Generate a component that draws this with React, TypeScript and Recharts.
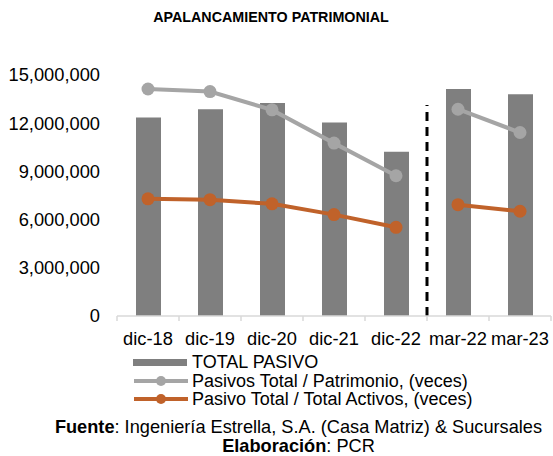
import React from "react";
import { ComposedChart, Bar, Line, XAxis, YAxis, ReferenceLine } from "recharts";

const categories = ["dic-18", "dic-19", "dic-20", "dic-21", "dic-22", "mar-22", "mar-23"];
const totalPasivo = [12350000, 12870000, 13250000, 12040000, 10220000, 14130000, 13800000];
// ratios drawn on a hidden secondary axis (0–15)
const pasivoPatrimonio = [14.13, 13.97, 12.83, 10.76, 8.73, 12.87, 11.42];
const pasivoActivos = [7.29, 7.24, 6.98, 6.31, 5.52, 6.93, 6.52];
const yTicks = [0, 3000000, 6000000, 9000000, 12000000, 15000000];
const annualCount = 5;

const data = categories.map((c, i) => ({
  cat: c,
  pasivo: totalPasivo[i],
  patA: i < annualCount ? pasivoPatrimonio[i] : null,
  patQ: i >= annualCount ? pasivoPatrimonio[i] : null,
  actA: i < annualCount ? pasivoActivos[i] : null,
  actQ: i >= annualCount ? pasivoActivos[i] : null,
}));

const FONT = "'Liberation Sans', Arial, sans-serif";
const BAR = "#7f7f7f";
const GRAY = "#a5a5a5";
const ORANGE = "#c0622a";

const lineDot = (color: string) => ({ r: 6.5, fill: color, stroke: color, strokeWidth: 0 });

// category label plus tick marks on the band edges (excel style)
function CatTick(props: any) {
  const { x, y, payload, index } = props;
  const half = payload?.offset ?? 31;
  const axisY = 316;
  const last = index === categories.length - 1;
  return (
    <g>
      <line x1={x - half} x2={x - half} y1={axisY} y2={axisY + 5} stroke="#d9d9d9" strokeWidth={1.5} />
      {last && <line x1={x + half} x2={x + half} y1={axisY} y2={axisY + 5} stroke="#d9d9d9" strokeWidth={1.5} />}
      <text x={x} y={y} dy="0.71em" textAnchor="middle" fill="#000" fontSize={18.3} fontFamily={FONT}>
        {payload.value}
      </text>
    </g>
  );
}

function LegendLine({ color }: { color: string }) {
  return (
    <svg width={56} height={12} style={{ marginRight: 3 }}>
      <line x1={1} y1={6} x2={55} y2={6} stroke={color} strokeWidth={4} />
      <circle cx={28} cy={6} r={5} fill={color} />
    </svg>
  );
}

export default function App() {
  return (
    <div style={{ position: "relative", width: 553, height: 456, fontFamily: FONT, color: "#000" }}>
      <style>{`body{margin:0}`}</style>
      <div style={{ position: "absolute", left: 0, top: 9, width: 542, textAlign: "center", fontWeight: "bold", fontSize: 14.3 }}>
        APALANCAMIENTO PATRIMONIAL
      </div>
      <div style={{ position: "absolute", left: 0, top: 0 }}>
        <ComposedChart width={553} height={350} data={data} margin={{ top: 75, right: 2, left: 0, bottom: 0 }}>
          <XAxis
            xAxisId="x"
            dataKey="cat"
            height={34}
            tickLine={false}
            axisLine={{ stroke: "#d9d9d9", strokeWidth: 1.5 }}
            tick={<CatTick />}
            tickMargin={10}
            interval={0}
          />
          <YAxis
            yAxisId="l"
            width={117}
            domain={[0, 15000000]}
            ticks={yTicks}
            tickFormatter={(v: number) => v.toLocaleString("en-US")}
            axisLine={false}
            tickLine={false}
            tickMargin={11}
            tick={{ fill: "#000", fontSize: 18.3, fontFamily: FONT }}
          />
          <YAxis yAxisId="r" orientation="right" hide domain={[0, 15]} />
          <Bar xAxisId="x" yAxisId="l" dataKey="pasivo" fill={BAR} barSize={25} isAnimationActive={false} />
          <ReferenceLine
            xAxisId="x"
            yAxisId="l"
            segment={[{ x: "dic-22", y: 0 }, { x: "dic-22", y: 13140000 }]}
            position="end"
            stroke="#000"
            strokeWidth={3}
            strokeDasharray="9 6"
          />
          <Line xAxisId="x" yAxisId="r" dataKey="patA" stroke={GRAY} strokeWidth={4} dot={lineDot(GRAY)} activeDot={false} connectNulls={false} isAnimationActive={false} />
          <Line xAxisId="x" yAxisId="r" dataKey="patQ" stroke={GRAY} strokeWidth={4} dot={lineDot(GRAY)} activeDot={false} connectNulls={false} isAnimationActive={false} />
          <Line xAxisId="x" yAxisId="r" dataKey="actA" stroke={ORANGE} strokeWidth={4} dot={lineDot(ORANGE)} activeDot={false} connectNulls={false} isAnimationActive={false} />
          <Line xAxisId="x" yAxisId="r" dataKey="actQ" stroke={ORANGE} strokeWidth={4} dot={lineDot(ORANGE)} activeDot={false} connectNulls={false} isAnimationActive={false} />
        </ComposedChart>
      </div>
      <div style={{ position: "absolute", left: 133, top: 353, fontSize: 18, lineHeight: "18.6px" }}>
        <div style={{ display: "flex", alignItems: "center", height: 18.6 }}>
          <div style={{ width: 54, height: 7, background: BAR, marginRight: 5 }} />
          <span>TOTAL PASIVO</span>
        </div>
        <div style={{ display: "flex", alignItems: "center", height: 18.6 }}>
          <LegendLine color={GRAY} />
          <span>Pasivos Total / Patrimonio, (veces)</span>
        </div>
        <div style={{ display: "flex", alignItems: "center", height: 18.6 }}>
          <LegendLine color={ORANGE} />
          <span>Pasivo Total / Total Activos, (veces)</span>
        </div>
      </div>
      <div style={{ position: "absolute", left: 40, top: 418, width: 517, textAlign: "center", fontSize: 18.2, lineHeight: "19px" }}>
        <div>
          <b>Fuente</b>: Ingeniería Estrella, S.A. (Casa Matriz) &amp; Sucursales
        </div>
        <div>
          <b>Elaboración</b>: PCR
        </div>
      </div>
    </div>
  );
}
